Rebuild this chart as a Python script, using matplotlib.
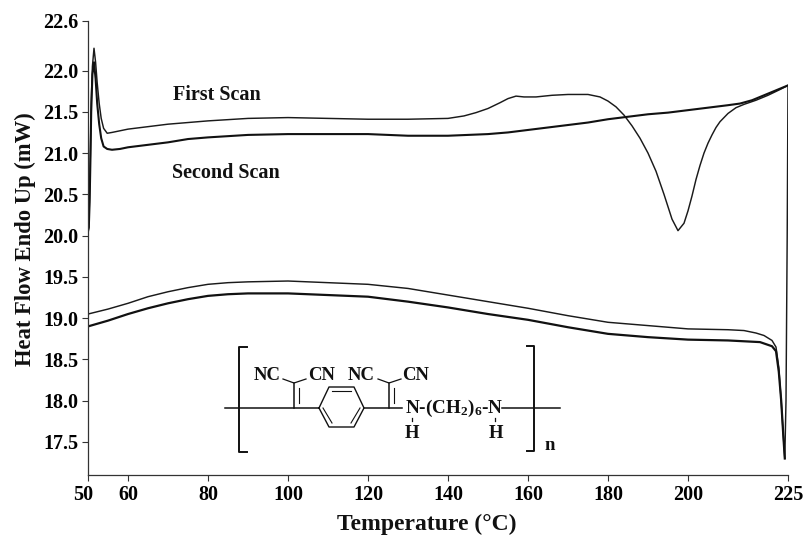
import matplotlib
matplotlib.use("Agg")
import matplotlib.pyplot as plt
from matplotlib.transforms import ScaledTranslation

plt.rcParams["font.family"] = ["Liberation Serif", "DejaVu Serif"]
plt.rcParams["font.weight"] = "bold"
plt.rcParams["mathtext.fontset"] = "custom"
plt.rcParams["mathtext.rm"] = "Liberation Serif:bold"
plt.rcParams["mathtext.default"] = "rm"

# heat flow traces
first_t = [50.0, 50.2, 50.4, 50.6, 50.8, 51.1, 51.5, 51.9, 52.3, 52.8, 53.3, 53.9, 54.8, 56, 58, 60, 65, 70, 75, 80,
           90, 100, 110, 120, 130, 140, 144, 147, 150, 153, 155, 157, 159, 162, 166, 170, 175, 178, 180, 182, 184,
           186, 188, 190, 192, 194, 196, 197.5, 199, 200, 201, 202, 203, 204, 205, 206, 207, 208, 210, 212, 214,
           217, 220, 223, 225]
first_v = [20.05, 20.1, 20.5, 21.0, 21.6, 22.05, 22.27, 22.1, 21.85, 21.6, 21.42, 21.3, 21.24, 21.25, 21.27, 21.29,
           21.32, 21.35, 21.37, 21.39, 21.42, 21.43, 21.42, 21.41, 21.41, 21.42, 21.45, 21.49, 21.54, 21.61, 21.66,
           21.69, 21.68, 21.68, 21.7, 21.71, 21.71, 21.68, 21.63, 21.56, 21.46, 21.33, 21.18, 21.0, 20.78, 20.5,
           20.2, 20.06, 20.15, 20.3, 20.48, 20.68, 20.85, 21.0, 21.12, 21.22, 21.31, 21.38, 21.48, 21.55, 21.59,
           21.64, 21.7, 21.77, 21.82]
second_t = [50.0, 50.2, 50.4, 50.6, 50.8, 51.1, 51.5, 51.9, 52.3, 52.8, 53.3, 53.9, 54.8, 56, 58, 60, 65, 70, 75, 80,
            90, 100, 110, 120, 130, 140, 150, 155, 160, 165, 170, 175, 180, 185, 190, 195, 200, 205, 210, 213,
            216, 219, 222, 225]
second_v = [20.05, 20.1, 20.4, 20.9, 21.5, 21.95, 22.1, 21.9, 21.6, 21.35, 21.18, 21.08, 21.05, 21.04, 21.05, 21.07,
            21.1, 21.13, 21.17, 21.19, 21.22, 21.23, 21.23, 21.23, 21.21, 21.21, 21.23, 21.25, 21.28, 21.31, 21.34,
            21.37, 21.41, 21.44, 21.47, 21.49, 21.52, 21.55, 21.58, 21.6, 21.64, 21.7, 21.76, 21.82]
cool_first_t = [50, 55, 60, 65, 70, 75, 80, 85, 90, 100, 110, 120, 130, 140, 150, 160, 170, 180, 190, 200, 210, 214,
                217, 219, 221, 222, 222.7, 223.3, 223.8, 224.2, 224.5, 224.8, 225]
cool_first_v = [19.05, 19.11, 19.18, 19.26, 19.32, 19.37, 19.41, 19.43, 19.44, 19.45, 19.43, 19.41, 19.36, 19.28,
                19.2, 19.12, 19.03, 18.95, 18.91, 18.87, 18.86, 18.85, 18.82, 18.79, 18.73, 18.65, 18.4, 18.0, 17.6,
                17.3, 18.0, 20.0, 21.8]
cool_second_t = [50, 55, 60, 65, 70, 75, 80, 85, 90, 100, 110, 120, 130, 140, 150, 160, 170, 180, 190, 200, 210, 218,
                 221, 222, 222.7, 223.3, 223.8, 224.2]
cool_second_v = [18.9, 18.97, 19.05, 19.12, 19.18, 19.23, 19.27, 19.29, 19.3, 19.3, 19.28, 19.26, 19.2, 19.13, 19.05,
                 18.98, 18.89, 18.81, 18.77, 18.74, 18.73, 18.71, 18.66, 18.6, 18.35, 18.0, 17.6, 17.3]

x_ticks = [60, 80, 100, 120, 140, 160, 180, 200, 225]
y_ticks = [17.5, 18.0, 18.5, 19.0, 19.5, 20.0, 20.5, 21.0, 21.5, 22.0, 22.6]

W, H = 806, 535
fig = plt.figure(figsize=(W / 100, H / 100), dpi=100)
ax = fig.add_axes([88 / W, 1 - 475 / H, 700 / W, 454 / H])

ax.plot(first_t, first_v, color="#1a1a1a", lw=1.05)
ax.plot(second_t, second_v, color="#111111", lw=1.5)
ax.plot(cool_first_t, cool_first_v, color="#1a1a1a", lw=1.05)
ax.plot(cool_second_t, cool_second_v, color="#111111", lw=1.6)

ax.set_xlim(50, 225)
ax.set_ylim(17.1, 22.6)
ax.spines["top"].set_visible(False)
ax.spines["right"].set_visible(False)
for s in ["left", "bottom"]:
    ax.spines[s].set_linewidth(0.9)
    ax.spines[s].set_color("#333333")

ax.set_xticks([50] + x_ticks)
ax.set_xticklabels(["50"] + [str(t) for t in x_ticks], fontsize=14.5)
ax.set_yticks(y_ticks)
ax.set_yticklabels([f"{v:.1f}" for v in y_ticks], fontsize=14.5)
ax.tick_params(length=4, width=0.8, color="#333333", pad=3)
# the 50 label sits a bit left of its tick
lab50 = ax.get_xticklabels()[0]
lab50.set_transform(lab50.get_transform() + ScaledTranslation(-5 / 100, 0, fig.dpi_scale_trans))

# everything below is placed in reference pixels
def px(x, y):
    return x / W, 1 - y / H

def seg(xs, ys, lw=1.0):
    fig.add_artist(plt.Line2D([x / W for x in xs], [1 - y / H for y in ys], color="#111111", lw=lw))

def label(x, y, s, size=12, **kw):
    fig.text(*px(x, y), s, fontsize=size, ha=kw.pop("ha", "center"), va="center", color="#111111", **kw)

label(217, 95, "First Scan", 14.5)
label(226, 173, "Second Scan", 14.5)
label(25, 239, "Heat Flow Endo Up (mW)", 16.3, rotation=90)
label(427, 524, "Temperature (°C)", 17)

# polymer repeat unit
seg([247, 239, 239, 247], [347, 347, 452, 452], 1.4)
seg([527, 534, 534, 527], [346, 346, 451, 451], 1.4)
seg([225, 319], [408, 408], 1.1)
seg([364, 402], [408, 408], 1.1)
seg([502, 560], [408, 408], 1.1)
seg([319, 329, 354, 364, 354, 329, 319], [408, 387, 387, 408, 427, 427, 408])
seg([332, 351], [391, 391], 0.8)
seg([323, 332], [408, 423], 0.8)
seg([360, 351], [408, 423], 0.8)
for vx in [294, 389]:
    seg([vx, vx], [408, 383], 1.1)
    seg([vx + 5, vx + 5], [403, 388], 0.8)
    seg([vx - 11, vx, vx + 12], [379, 383, 379], 0.9)
label(267, 375, "NC", 13.5)
label(322, 375, "CN", 13.5)
label(361, 375, "NC", 13.5)
label(416, 375, "CN", 13.5)
label(405, 408, "N-(CH$_2$)$_6$-N", 13.8, ha="left")
label(412, 433, "H", 13.5)
label(496, 433, "H", 13.5)
seg([412, 412], [418, 421], 0.9)
seg([495, 495], [418, 421], 0.9)
label(550, 446, "n", 13.5)

fig.savefig("out.png", dpi=100)
